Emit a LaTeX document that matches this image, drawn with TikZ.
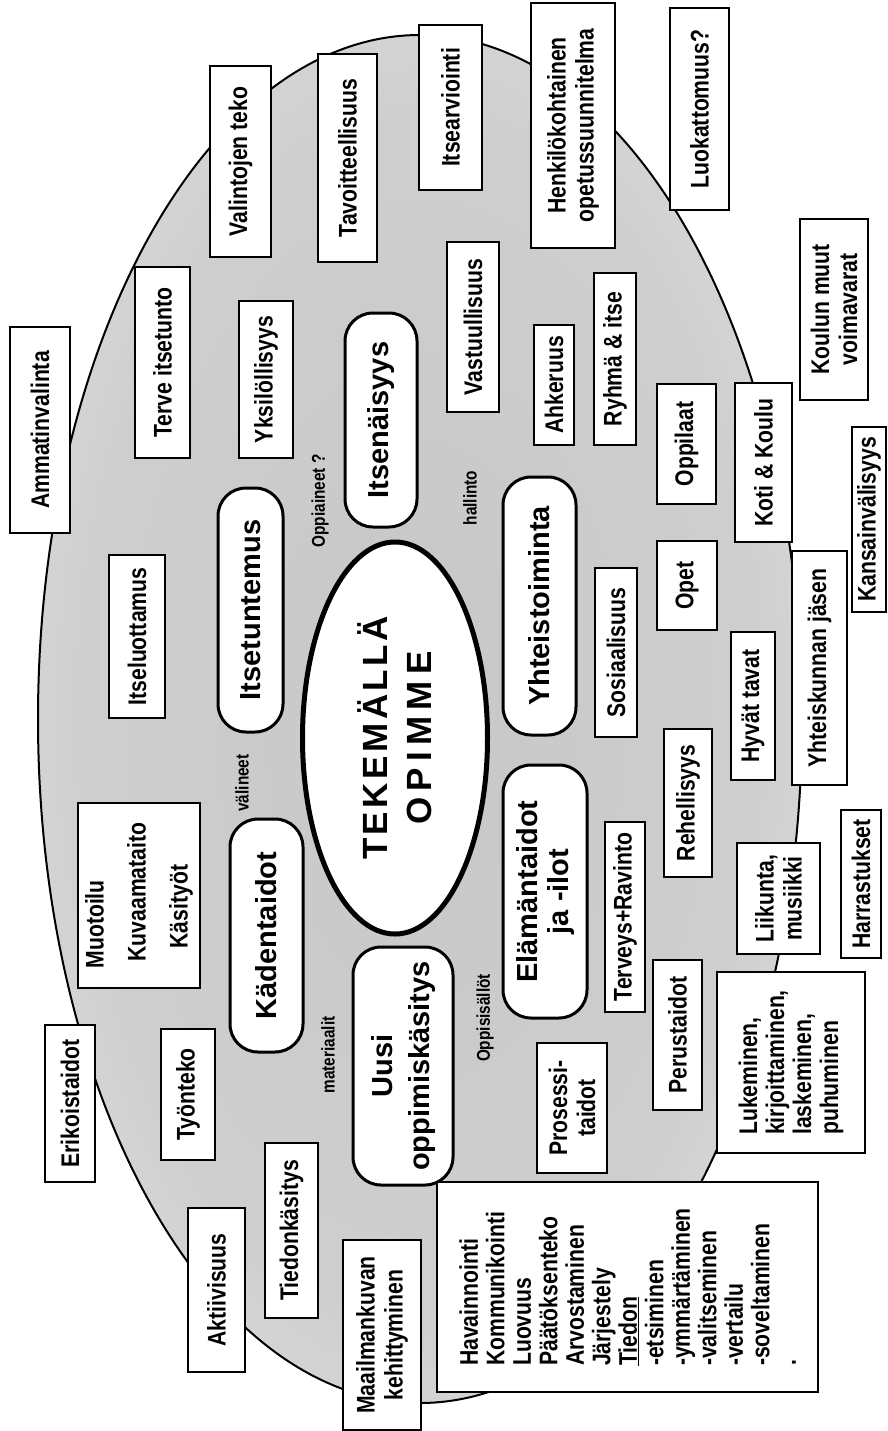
\documentclass[tikz,border=0pt]{standalone}
\usepackage{fontspec}
\setmainfont{Liberation Sans}
\newfontfamily\narrowsans{Liberation Sans}[FakeStretch=0.83]
\usetikzlibrary{shapes.geometric,calc}

% soft halftone-like grey inside the outer ellipse
\pgfdeclareradialshading{stipple}{\pgfpoint{0bp}{0bp}}{%
  color(0bp)=(black!22); color(22bp)=(black!19); color(36bp)=(black!10); color(50bp)=(black!3)}

\tikzset{
  box/.style={draw, line width=2.4pt, fill=white, rotate=90, inner sep=2pt, align=center,
    font=\narrowsans\bfseries\fontsize{25.5}{28}\selectfont},
  pill/.style={rounded corners=28pt, line width=3pt,
    font=\bfseries\fontsize{29}{31}\selectfont},
  tag/.style={rotate=90, inner sep=0pt,
    font=\narrowsans\bfseries\fontsize{18.5}{20}\selectfont},
  core/.style={draw, ellipse, line width=5pt, fill=white, rotate=90, inner sep=0pt, align=center,
    font=\bfseries\fontsize{35}{44}\selectfont},
}

% \cell[style]{name}{x1}{y1}{x2}{y2}{text}: upright box given by its corners, text turned a quarter
\newcommand\cell[7][]{%
  \pgfmathsetmacro\cellx{(#3+#5)/2}%
  \pgfmathsetmacro\celly{(#4+#6)/2}%
  \pgfmathsetmacro\cellw{#6-#4}%
  \pgfmathsetmacro\cellh{#5-#3}%
  \node[box, #1, minimum width=\cellw pt, minimum height=\cellh pt] (#2) at (\cellx,\celly) {#7};}

\begin{document}
\begin{tikzpicture}[x=1pt, y=-1pt]
\useasboundingbox (0,0) rectangle (888,1431);

% outer ellipse
\shade[shading=stipple] (420,719) ellipse [x radius=382, y radius=684];
\draw[line width=2pt] (420,719) ellipse [x radius=382, y radius=684];

% centre
\node[core, minimum width=392pt, minimum height=185pt] (core) at (395,738)
  {{\addfontfeature{LetterSpace=10}TEKEMÄLLÄ}\\{\addfontfeature{LetterSpace=18}OPIMME}};

% main themes
\cell[pill]{itsetunt}{218}{488}{283}{732}{Itsetuntemus}
\cell[pill]{itsenai}{345}{313}{417}{527}{Itsenäisyys}
\cell[pill]{yhteis}{503}{477}{576}{735}{Yhteistoiminta}
\cell[pill]{elama}{503}{765}{587}{1018}{Elämäntaidot\\ja -ilot}
\cell[pill]{kaden}{230}{819}{303}{1052}{Kädentaidot}
\cell[pill, font=\bfseries\fontsize{29}{37}\selectfont]{uusi}{353}{947}{453}{1185}{Uusi\\oppimiskäsitys}

% boxes along the top and left
\cell{amm}{10}{327}{70}{533}{Ammatinvalinta}
\cell{terve}{135}{267}{190}{458}{Terve itsetunto}
\cell{yksi}{239}{301}{293}{458}{Yksilöllisyys}
\cell{valinta}{210}{66}{271}{257}{Valintojen teko}
\cell{tavoite}{318}{54}{377}{262}{Tavoitteellisuus}
\cell{itsearv}{419}{25}{482}{190}{Itsearviointi}
\cell{hops}{531}{3}{615}{248}{Henkilökohtainen\\opetussuunnitelma}
\cell{luokat}{670}{8}{729}{210}{Luokattomuus?}
\cell{itseluot}{109}{555}{165}{718}{Itseluottamus}
\cell[align=left, font=\narrowsans\bfseries\fontsize{25.5}{42}\selectfont]{muotoilu}{78}{803}{200}{988}%
  {Muotoilu\\\hspace*{7pt}Kuvaamataito\\\hspace*{20pt}Käsityöt}

% boxes on the right
\cell{vastuu}{447}{242}{499}{412}{Vastuullisuus}
\cell{ahker}{534}{325}{574}{445}{Ahkeruus}
\cell{ryhma}{594}{273}{636}{445}{Ryhmä \& itse}
\cell{voimavarat}{800}{219}{868}{400}{Koulun muut\\voimavarat}
\cell{oppilaat}{657}{384}{716}{504}{Oppilaat}
\cell{koti}{735}{383}{792}{542}{Koti \& Koulu}
\cell{kv}{852}{427}{886}{612}{Kansainvälisyys}
\cell{opet}{657}{541}{717}{630}{Opet}
\cell{sos}{595}{568}{637}{737}{Sosiaalisuus}
\cell{hyvat}{731}{632}{775}{780}{Hyvät tavat}
\cell{jasen}{792}{551}{847}{785}{Yhteiskunnan jäsen}
\cell{rehell}{664}{729}{712}{877}{Rehellisyys}
\cell{liikunta}{737}{843}{820}{954}{Liikunta,\\musiikki}
\cell{harrast}{841}{810}{881}{958}{Harrastukset}
\cell{terveys}{605}{822}{645}{1012}{Terveys+Ravinto}
\cell{perus}{653}{960}{702}{1110}{Perustaidot}
\cell[align=left, font=\narrowsans\bfseries\fontsize{25.5}{27}\selectfont]{luku}{717}{972}{865}{1153}%
  {Lukeminen,\\kirjoittaminen,\\laskeminen,\\puhuminen}
\cell{prosessi}{537}{1043}{607}{1173}{Prosessi-\\taidot}
\cell[align=left, font=\narrowsans\bfseries\fontsize{25.5}{26.5}\selectfont]{taidot}{437}{1182}{818}{1392}%
  {Havainnointi\\Kommunikointi\\Luovuus\\Päätöksenteko\\Arvostaminen\\Järjestely\\\underline{Tiedon}\\-etsiminen\\-ymmärtäminen\\-valitseminen\\-vertailu\\-soveltaminen\\.}

% boxes at the bottom left
\cell{erikois}{45}{1025}{95}{1182}{Erikoistaidot}
\cell{tyonteko}{161}{1029}{215}{1160}{Työnteko}
\cell{tiedonk}{265}{1143}{318}{1318}{Tiedonkäsitys}
\cell{aktiiv}{188}{1208}{245}{1372}{Aktiivisuus}
\cell{maailma}{343}{1240}{421}{1430}{Maailmankuvan\\kehittyminen}

% small labels between the themes
\node[tag] (valineet) at (242,783) {välineet};
\node[tag] (oppiaineet) at (320,501) {Oppiaineet ?};
\node[tag] (hallinto) at (470,498) {hallinto};
\node[tag] (materiaalit) at (328,1055) {materiaalit};
\node[tag] (oppisisallot) at (485,1018) {Oppisisällöt};
\end{tikzpicture}
\end{document}
